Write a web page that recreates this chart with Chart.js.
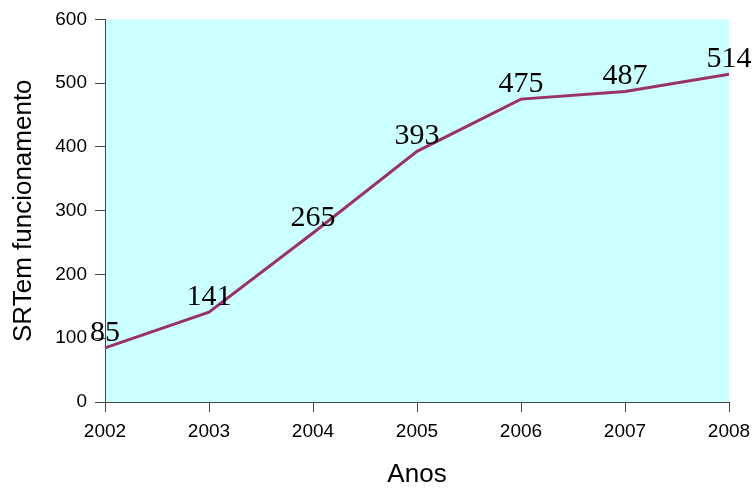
<!DOCTYPE html>
<html lang="pt">
<head>
    <meta charset="UTF-8">
    <title>SR em funcionamento</title>
    <script src="https://cdn.jsdelivr.net/npm/chart.js"></script>
    <style>
        body { margin: 0; background: #fff; }
        canvas { display: block; }
    </style>
</head>
<body>
    <canvas id="chart" width="755" height="490"></canvas>
    <script>
        var anos = ['2002', '2003', '2004', '2005', '2006', '2007', '2008'];
        var srEmFuncionamento = [85, 141, 265, 393, 475, 487, 514];
        var yTicks = [0, 100, 200, 300, 400, 500, 600];

        // fill the plot area with the light cyan
        var plotBackground = {
            id: 'plotBackground',
            beforeDraw: function(chart) {
                var a = chart.chartArea;
                var ctx = chart.ctx;
                ctx.save();
                ctx.fillStyle = '#ccffff';
                ctx.fillRect(a.left, a.top, a.right - a.left, a.bottom - a.top);
                ctx.restore();
            }
        };

        // value labels above each point
        var valueLabels = {
            id: 'valueLabels',
            afterDatasetsDraw: function(chart) {
                var ctx = chart.ctx;
                var meta = chart.getDatasetMeta(0);
                ctx.save();
                ctx.font = '30px "Liberation Serif", "Times New Roman", serif';
                ctx.fillStyle = '#000';
                ctx.textAlign = 'center';
                ctx.textBaseline = 'alphabetic';
                meta.data.forEach(function(pt, i) {
                    ctx.fillText(String(srEmFuncionamento[i]), pt.x, pt.y - 7);
                });
                ctx.restore();
            }
        };

        var sans = '"Liberation Sans", Arial, sans-serif';

        var ctx = document.getElementById('chart').getContext('2d');
        new Chart(ctx, {
            type: 'line',
            data: {
                labels: anos,
                datasets: [{
                    data: srEmFuncionamento,
                    borderColor: '#993366',
                    borderWidth: 3,
                    pointRadius: 0,
                    tension: 0
                }]
            },
            options: {
                responsive: false,
                animation: false,
                layout: { padding: { top: 19, right: 26, left: 0, bottom: 0 } },
                plugins: {
                    legend: { display: false },
                    tooltip: { enabled: false }
                },
                scales: {
                    x: {
                        offset: false,
                        afterFit: function(s) {
                            s.height = 88;
                            s.paddingLeft = 0;
                            s.paddingRight = 0;
                        },
                        grid: { drawOnChartArea: false, tickLength: 10, color: '#444' },
                        border: { color: '#444', width: 1 },
                        ticks: {
                            color: '#000',
                            font: { family: sans, size: 19 },
                            padding: 8,
                            maxRotation: 0
                        },
                        title: {
                            display: true,
                            text: 'Anos',
                            color: '#000',
                            font: { family: sans, size: 26 },
                            padding: { top: 0, bottom: 0 }
                        }
                    },
                    y: {
                        min: 0,
                        max: 600,
                        afterFit: function(s) { s.width = 105; },
                        afterBuildTicks: function(s) {
                            s.ticks = yTicks.map(function(v) { return { value: v }; });
                        },
                        grid: { drawOnChartArea: false, tickLength: 10, color: '#444' },
                        border: { color: '#444', width: 1 },
                        ticks: {
                            color: '#000',
                            font: { family: sans, size: 19 },
                            padding: 8
                        },
                        title: {
                            display: true,
                            text: 'SRTem funcionamento',
                            color: '#000',
                            font: { family: sans, size: 26 },
                            padding: { top: 8, bottom: 0 }
                        }
                    }
                }
            },
            plugins: [plotBackground, valueLabels]
        });
    </script>
</body>
</html>
